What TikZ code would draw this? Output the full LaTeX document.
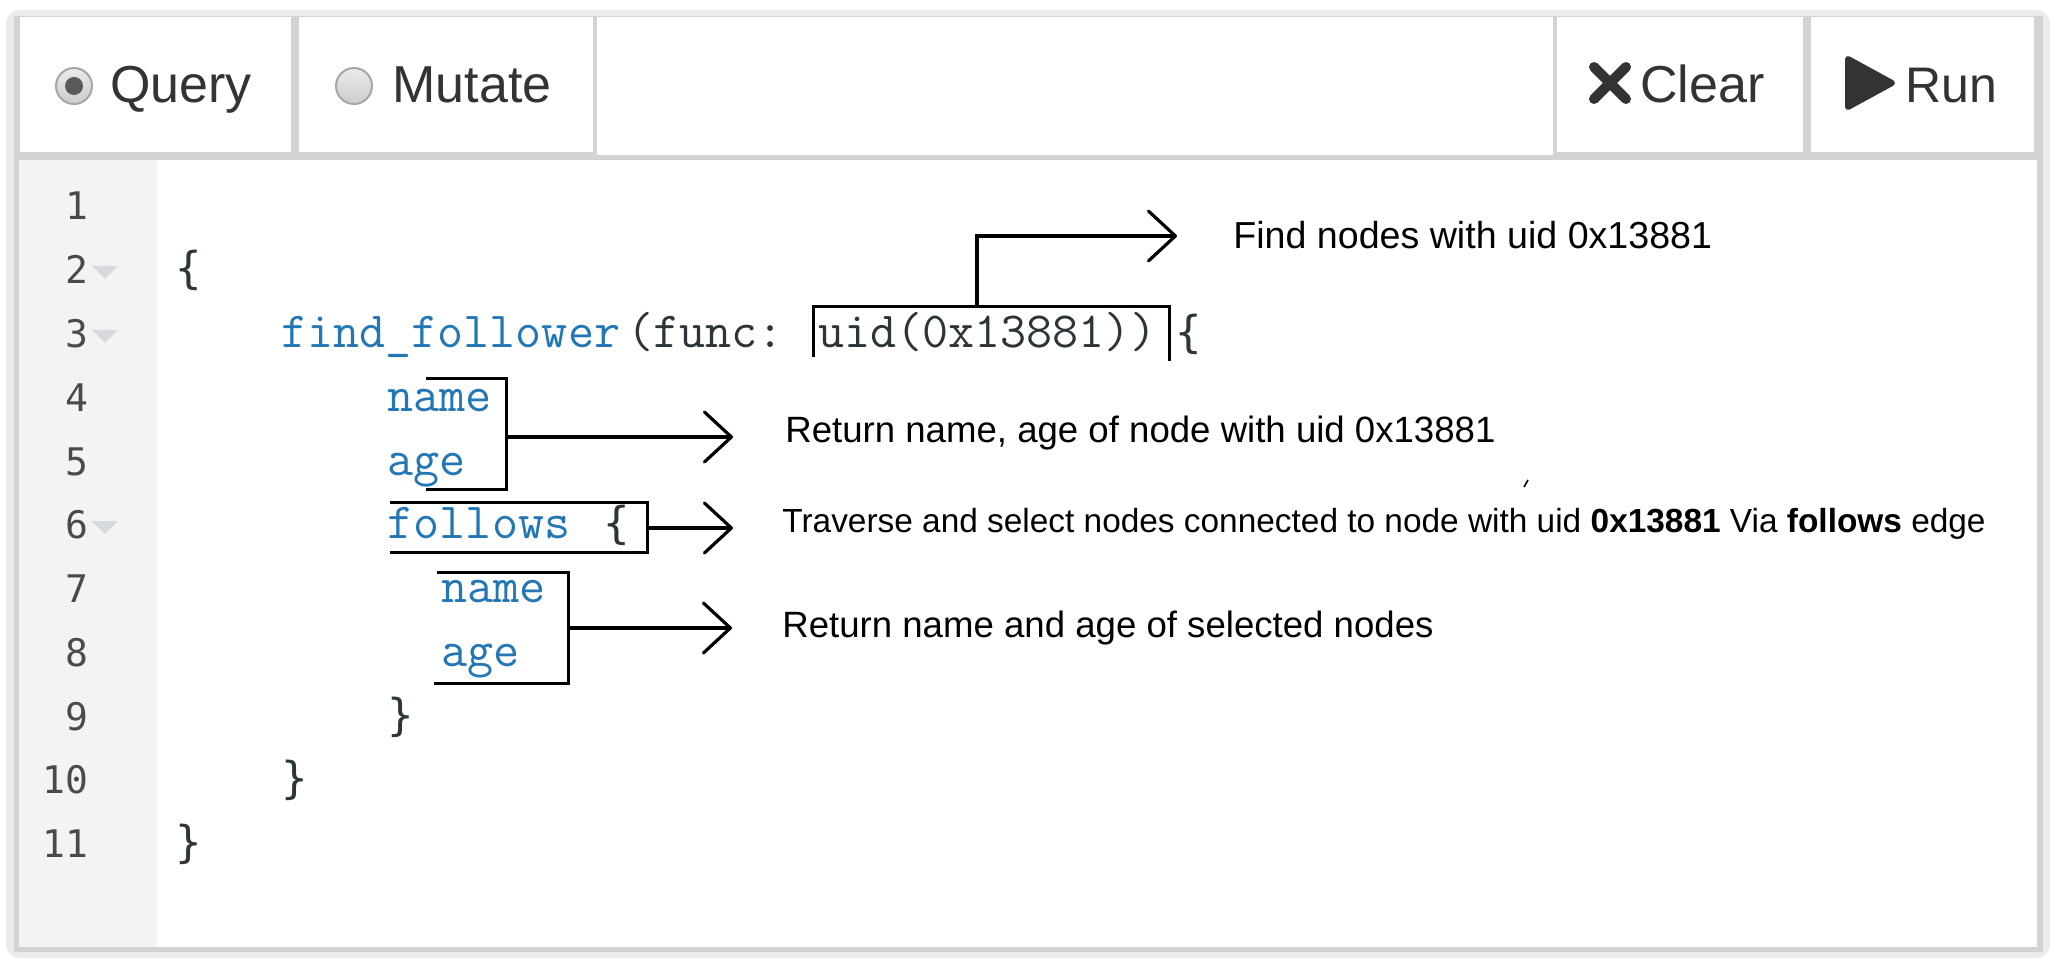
\documentclass[tikz,border=0pt]{standalone}
\usepackage{fontspec}
\setmainfont{Liberation Sans}
\newfontfamily\numfont{DejaVu Sans Mono}
\usetikzlibrary{arrows.meta}
\definecolor{outerband}{HTML}{EBEBEB}
\definecolor{bordergray}{HTML}{D3D3D3}
\definecolor{guttercol}{HTML}{F3F3F3}
\definecolor{lnumcol}{HTML}{4A4A4A}
\definecolor{foldcol}{HTML}{D6D9DD}
\definecolor{codeblue}{HTML}{2477B5}
\definecolor{codedark}{HTML}{2D3538}
\definecolor{btntext}{HTML}{333333}
\tikzset{
  codetxt/.style={anchor=base west, inner sep=0pt, font=\ttfamily\fontsize{25.3pt}{30pt}\selectfont\addfontfeature{FakeBold=2.5}},
  bracetxt/.style={anchor=base west, inner sep=0pt, font=\numfont\fontsize{22pt}{26pt}\selectfont, text=codedark},
  lnum/.style={anchor=base east, inner sep=0pt, font=\numfont\fontsize{19pt}{22pt}\selectfont, text=lnumcol},
  btn/.style={anchor=base west, inner sep=0pt, text=btntext},
  note/.style={anchor=base west, inner sep=0pt, text=black},
  bracket/.style={draw=black, line width=1.5pt},
  pointer/.style={draw=black, line width=1.6pt, -{Straight Barb[length=13.5pt, width=25pt, round]}},
  foldtri/.style={fill=foldcol},
  radio/.style={draw=gray!70, line width=1pt, top color=white!92!black, bottom color=white!80!black},
}
\begin{document}
\begin{tikzpicture}[x=0.5pt, y=-0.5pt]
\useasboundingbox (0,0) rectangle (2057,968);
% frame
\fill[outerband, rounded corners=7pt] (6,10) rectangle (2050,958);
\fill[bordergray] (14,16) rectangle (2043,952);
% toolbar buttons
\fill[white] (20,17) rectangle (291,152);
\fill[white] (299,17) rectangle (593,152);
\fill[white] (597,17) rectangle (1553,155);
\fill[white] (1557,17) rectangle (1803,152);
\fill[white] (1811,17) rectangle (2034,152);
% code area
\fill[guttercol] (19,160) rectangle (157,947);
\fill[white] (157,160) rectangle (2037,947);

% radio buttons
\shade[radio] (74,86) circle (18);
\fill[white!35!black] (74,86) circle (9);
\shade[radio] (354,86) circle (18);
\node[btn, font=\fontsize{26pt}{30pt}\selectfont] (query) at (110,103) {Query};
\node[btn, font=\fontsize{26pt}{30pt}\selectfont] (mutate) at (392,103) {Mutate};
% clear icon
\draw[btntext, line width=5pt, line cap=round] (1594,67) -- (1626,99);
\draw[btntext, line width=5pt, line cap=round] (1594,99) -- (1626,67);
\node[btn, font=\fontsize{26pt}{30pt}\selectfont] (clear) at (1640,103) {Clear};
% run icon
\filldraw[btntext, line width=3pt, line join=round] (1848,59) -- (1892,83) -- (1848,107) -- cycle;
\node[btn, font=\fontsize{25pt}{30pt}\selectfont] (run) at (1905,103) {Run};

% line numbers
\foreach \k in {1,...,11} \node[lnum] (ln\k) at (89,{220+63.76*(\k-1)}) {\k};
% fold markers
\fill[foldtri] (92,266) -- (118,266) -- (105,279) -- cycle;
\fill[foldtri] (92,329.8) -- (118,329.8) -- (105,342.8) -- cycle;
\fill[foldtri] (92,521) -- (118,521) -- (105,534) -- cycle;

% code
\node[bracetxt] (c2) at (174.6,283.76) {\{};
\node[codetxt, text=codeblue] (c3a) at (281,347.52) {find\_follower};
\node[codetxt, text=codedark] (c3b) at (626.8,347.52) {(func: uid(0x13881))};
\node[bracetxt] (c3c) at (1175,347.52) {\{};
\node[codetxt, text=codeblue] (c4) at (387.4,411.28) {name};
\node[codetxt, text=codeblue] (c5) at (387.4,475.04) {age};
\node[codetxt, text=codeblue] (c6a) at (387.4,538.8) {follows};
\node[bracetxt] (c6b) at (603,538.8) {\{};
\node[codetxt, text=codeblue] (c7) at (440.6,602.56) {name};
\node[codetxt, text=codeblue] (c8) at (440.6,666.32) {age};
\node[bracetxt] (c9) at (387.4,730.08) {\}};
\node[bracetxt] (c10) at (281,793.84) {\}};
\node[bracetxt] (c11) at (174.6,857.6) {\}};

% annotations
\node[note, font=\fontsize{18.8pt}{22pt}\selectfont] (n1) at (1233,249) {Find nodes with uid 0x13881};
\node[note, font=\fontsize{18.3pt}{22pt}\selectfont] (n2) at (785,442) {Return name, age of node with uid 0x13881};
\node[note, font=\fontsize{16.7pt}{20pt}\selectfont] (n3) at (782,532) {Traverse and select nodes connected to node with uid \textbf{0x13881} Via \textbf{follows} edge};
\node[note, font=\fontsize{18.3pt}{22pt}\selectfont] (n4) at (782,637) {Return name and age of selected nodes};

% bracket 1: uid(...)
\coordinate (b1a) at (813,357);
\coordinate (b1b) at (813,307);
\coordinate (b1c) at (1169,307);
\coordinate (b1d) at (1169,361);
\coordinate (b1m) at (977,307);
\coordinate (b1k) at (977,236);
\coordinate (b1t) at (1177,236);
\draw[bracket] (b1a) -- (b1b) -- (b1c) -- (b1d);
\draw[pointer] (b1m) -- (b1k) -- (b1t);
% bracket 2: name / age
\coordinate (b2a) at (426,379);
\coordinate (b2b) at (506,379);
\coordinate (b2c) at (506,489);
\coordinate (b2d) at (426,489);
\coordinate (b2m) at (506,437);
\coordinate (b2t) at (733,437);
\draw[bracket] (b2a) -- (b2b) -- (b2c) -- (b2d);
\draw[pointer] (b2m) -- (b2t);
% bracket 3: follows {
\coordinate (b3a) at (390,502);
\coordinate (b3b) at (647,502);
\coordinate (b3c) at (647,552);
\coordinate (b3d) at (390,552);
\coordinate (b3m) at (647,528);
\coordinate (b3t) at (733,528);
\draw[bracket] (b3a) -- (b3b) -- (b3c) -- (b3d);
\draw[pointer] (b3m) -- (b3t);
% bracket 4: name / age
\coordinate (b4a) at (437,572);
\coordinate (b4b) at (568,572);
\coordinate (b4c) at (568,683);
\coordinate (b4d) at (434,683);
\coordinate (b4m) at (568,628);
\coordinate (b4t) at (732,628);
\draw[bracket] (b4a) -- (b4b) -- (b4c) -- (b4d);
\draw[pointer] (b4m) -- (b4t);
% stray mark
\coordinate (s1) at (1524,487);
\coordinate (s2) at (1528,480);
\draw[line width=0.8pt] (s1) -- (s2);
\end{tikzpicture}
\end{document}
